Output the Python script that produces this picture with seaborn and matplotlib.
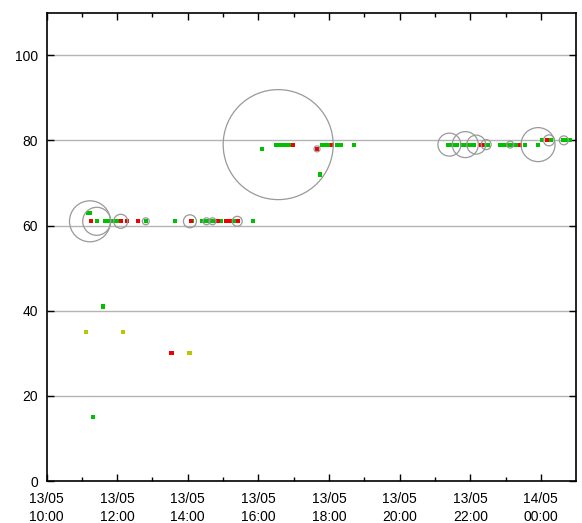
import matplotlib
matplotlib.use("Agg")
import matplotlib.pyplot as plt
import seaborn as sns
import pandas as pd
from matplotlib.ticker import FixedLocator

# ---- data (time in hours since 13/05 00:00) ----
green_t = [11.17, 11.23, 11.44, 11.65, 11.71, 11.79, 11.85, 11.98, 12.82, 13.64,
           14.13, 14.41, 14.50, 14.58, 14.67, 14.75, 14.95, 15.30, 15.85,
           16.11, 16.50, 16.60, 16.70, 16.80, 16.92, 17.74, 17.80, 17.91, 18.02,
           18.22, 18.33, 18.70,
           21.38, 21.49, 21.61, 21.77, 21.88, 22.00, 22.11, 22.39, 22.50, 22.85,
           22.96, 23.07, 23.18, 23.30, 23.54, 23.92, 24.03, 24.28, 24.62, 24.73, 24.81,
           11.59, 11.31]
green_v = [63, 63, 61, 61, 61, 61, 61, 61, 61, 61,
           61, 61, 61, 61, 61, 61, 61, 61, 61,
           78, 79, 79, 79, 79, 79, 72, 79, 79, 79,
           79, 79, 79,
           79, 79, 79, 79, 79, 79, 79, 79, 79, 79,
           79, 79, 79, 79, 79, 79, 80, 80, 80, 80, 80,
           41, 15]
red_t = [11.25, 12.10, 12.28, 12.58, 14.09, 14.85, 15.09, 15.17, 15.23, 15.43,
         16.98, 17.66, 18.08, 22.32, 23.40, 24.17, 13.54]
red_v = [61, 61, 61, 61, 61, 61, 61, 61, 61, 61,
         79, 78, 79, 79, 79, 80, 30]
yellow_t = [11.11, 12.16, 14.05]
yellow_v = [35, 35, 30]

bubble_t = [11.23, 11.42, 12.10, 12.81, 14.06, 14.53, 14.70, 15.40, 16.56, 17.66,
            21.41, 21.86, 22.17, 22.45, 23.13, 23.92, 24.23, 24.65]
bubble_v = [61, 61, 61, 61, 61, 61, 61, 61, 79, 78,
            79, 79, 79, 79, 79, 79, 80, 80]
bubble_w = [420, 196, 49, 12, 42, 12, 12, 25, 3025, 9,
            132, 169, 90, 25, 12, 289, 30, 20]

y_ticks = [0, 20, 40, 60, 80, 100]
x_major = [10, 12, 14, 16, 18, 20, 22, 24]

pts = pd.DataFrame({
    "t": green_t + red_t + yellow_t,
    "v": green_v + red_v + yellow_v,
    "kind": ["green"] * len(green_t) + ["red"] * len(red_t) + ["yellow"] * len(yellow_t),
})
bub = pd.DataFrame({"t": bubble_t, "v": bubble_v, "w": bubble_w})

plt.rcParams["font.family"] = ["Liberation Sans", "DejaVu Sans"]
fig = plt.figure(figsize=(5.82, 5.23), dpi=100)
ax = fig.add_axes([0.080, 0.080, 0.910, 0.896])

for yv in y_ticks[1:]:
    ax.axhline(yv, color="#b4b4b4", lw=1.0, zorder=0)

sns.scatterplot(data=pts, x="t", y="v", hue="kind",
                palette={"green": "#00c000", "red": "#f00000", "yellow": "#b8c800"},
                marker="s", s=9, linewidth=0, legend=False, ax=ax, zorder=3)

px_area = (2 * 0.72) ** 2
sns.scatterplot(data=bub, x="t", y="v", size="w", sizes=(0, 3025 * px_area),
                size_norm=(0, 3025), marker="o", facecolor="none",
                edgecolor="#999999", linewidth=0.9, legend=False, ax=ax, zorder=4)

ax.set_xlim(10, 25)
ax.set_ylim(0, 110)
ax.yaxis.set_major_locator(FixedLocator(y_ticks))
ax.xaxis.set_major_locator(FixedLocator(x_major))
ax.xaxis.set_minor_locator(FixedLocator([11, 13, 15, 17, 19, 21, 23]))
labels = [f"{13 if h < 24 else 14}/05\n{h % 24:02d}:00" for h in x_major]
ax.set_xticklabels(labels, linespacing=1.3)
ax.set_xlabel("")
ax.set_ylabel("")
ax.tick_params(axis="both", which="major", direction="in", length=5, width=1,
               top=True, right=True, labelsize=10, pad=6, colors="black")
ax.tick_params(axis="x", which="major", pad=8)
ax.tick_params(axis="x", which="minor", direction="in", length=3, width=1, top=True)
for sp in ax.spines.values():
    sp.set_linewidth(1.2)
    sp.set_color("black")

fig.savefig("out.png", dpi=100)
